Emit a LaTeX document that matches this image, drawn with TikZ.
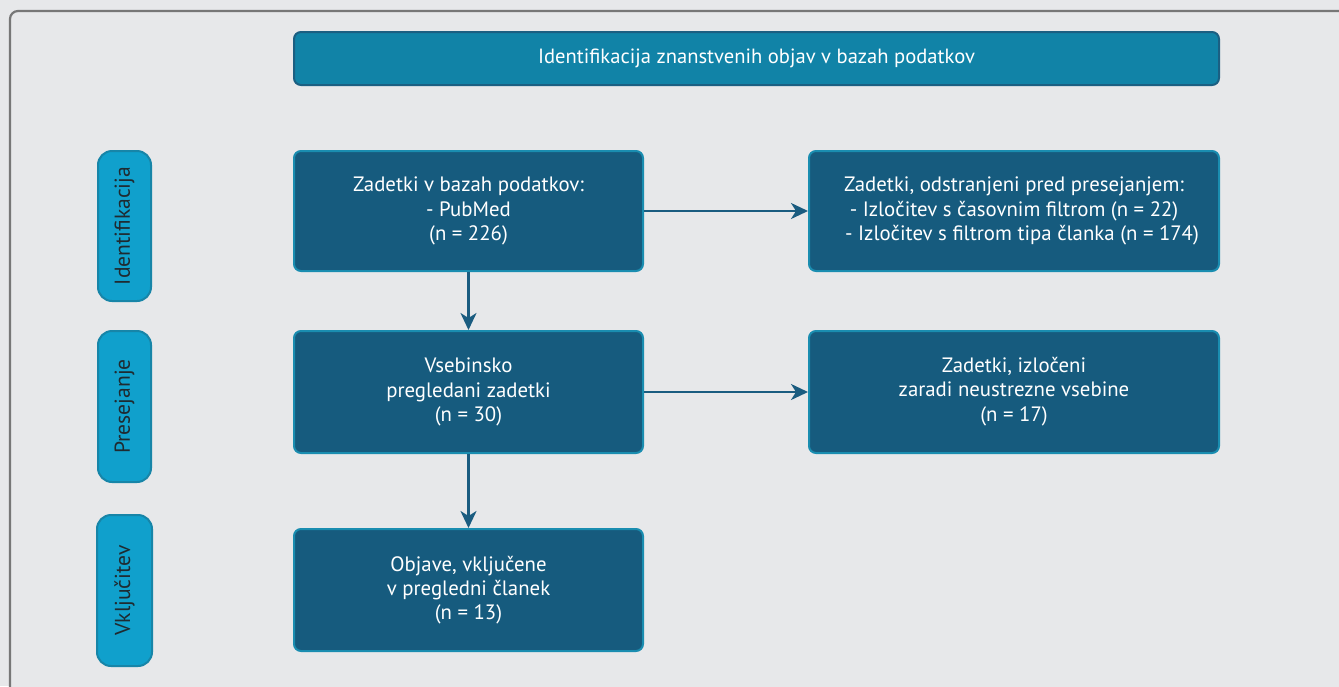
\documentclass[tikz,border=0pt]{standalone}
\usepackage{fontspec}
\setmainfont{PT Sans}
\usetikzlibrary{arrows.meta}
\definecolor{bgc}{HTML}{E7E8EA}
\definecolor{framec}{HTML}{777777}
\definecolor{titlefill}{HTML}{1183A7}
\definecolor{titledraw}{HTML}{1B5F82}
\definecolor{sidefill}{HTML}{10A0CC}
\definecolor{sidedraw}{HTML}{1785A8}
\definecolor{boxfill}{HTML}{165B7E}
\definecolor{boxdraw}{HTML}{1A8DB0}
\definecolor{arrowc}{HTML}{1A5C80}
\definecolor{sidetext}{HTML}{1F2A30}
\tikzset{
  mainbox/.style={draw=boxdraw, fill=boxfill, line width=2pt, rounded corners=7pt,
    text=white, align=center, font=\fontsize{20.8}{24.3}\selectfont, inner sep=0pt},
  sidebox/.style={draw=sidedraw, fill=sidefill, line width=2pt, rounded corners=14pt,
    text=sidetext, font=\fontsize{21.6}{24}\selectfont, inner sep=0pt},
  titlebox/.style={draw=titledraw, fill=titlefill, line width=2pt, rounded corners=7pt,
    text=white, font=\fontsize{20.6}{24}\selectfont, inner sep=0pt},
  flow/.style={draw=arrowc, line width=2.3pt, -{Stealth[length=17pt,width=16pt,inset=5pt]}}
}
\begin{document}
\begin{tikzpicture}[x=1pt,y=-1pt]
\useasboundingbox (0,0) rectangle (1339,686);
\fill[bgc] (0,0) rectangle (1339,686);
\begin{scope}
\clip (0,0) rectangle (1339,686);
\draw[framec, line width=2.2pt, rounded corners=8pt, fill=bgc] (10,11) rectangle (1360,710);
\end{scope}

\node[titlebox, minimum width=925pt, minimum height=53pt] (title) at (756.5,58.5)
  {Identifikacija znanstvenih objav v bazah podatkov};

\node[sidebox, minimum width=150pt, minimum height=53pt, rotate=90] (sid) at (124.5,226) {Identifikacija};
\node[sidebox, minimum width=151pt, minimum height=53pt, rotate=90] (spr) at (124.5,406.5) {Presejanje};
\node[sidebox, minimum width=151pt, minimum height=55pt, rotate=90] (svk) at (124.5,590.5) {Vključitev};

\node[mainbox, minimum width=349pt, minimum height=120pt] (b1) at (468.5,211)
  {Zadetki v bazah podatkov:\\- PubMed\\(n = 226)};
\node[mainbox, minimum width=410pt, minimum height=120pt] (b2) at (1014,211)
  {Zadetki, odstranjeni pred presejanjem:\\- Izločitev s časovnim filtrom (n = 22)\\\hspace*{16pt}- Izločitev s filtrom tipa članka (n = 174)};
\node[mainbox, minimum width=349pt, minimum height=122pt] (b3) at (468.5,392)
  {Vsebinsko\\pregledani zadetki\\(n = 30)};
\node[mainbox, minimum width=410pt, minimum height=122pt] (b4) at (1014,392)
  {\raisebox{-12pt}{\begin{tabular}{@{}c@{}}Zadetki, izločeni\\zaradi neustrezne vsebine\\(n = 17)\end{tabular}}};
\node[mainbox, minimum width=349pt, minimum height=122pt] (b5) at (468.5,590)
  {Objave, vključene\\v pregledni članek\\(n = 13)};

\draw[flow] (b1) -- (b2);
\draw[flow] (b1) -- (b3);
\draw[flow] (b3) -- (b4);
\draw[flow] (b3) -- (b5);
\end{tikzpicture}
\end{document}
